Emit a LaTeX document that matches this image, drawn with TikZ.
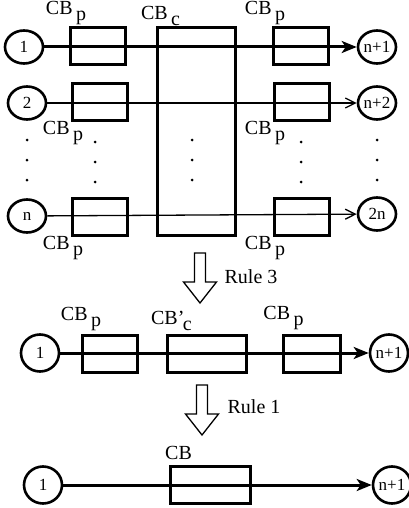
\documentclass[tikz,border=0pt]{standalone}
\usepackage{fontspec}
\setmainfont{Liberation Serif}
\usetikzlibrary{shapes.geometric, arrows.meta, positioning}

% lowered index, same size as the name
\newcommand{\lowsub}[1]{\raisebox{-0.28em}{\,#1}}

\begin{document}
\begin{tikzpicture}[x=1pt, y=-1pt,
    port/.style={ellipse, draw, line width=2.6pt, minimum width=38pt, minimum height=33pt, inner sep=0pt, font=\fontsize{17}{17}\selectfont},
    rport/.style={port, minimum height=37pt},
    cbox/.style={rectangle, draw, line width=3pt, minimum width=55pt, minimum height=37pt},
    lab/.style={inner sep=1pt, font=\fontsize{20}{20}\selectfont},
    wire/.style={line width=1.3pt, -{Straight Barb[length=10pt, width=10pt]}},
    mainwire/.style={line width=3pt, -{Stealth[length=15pt, width=12pt, inset=4pt]}},
    rulearrow/.pic={\draw[line width=1.3pt] (-5.5,0) -- (-5.5,29) -- (-16.5,29) -- (0,50) -- (16.5,29) -- (5.5,29) -- (5.5,0) -- cycle;}
]
\useasboundingbox (0,0) rectangle (409,508);

% --- n parallel paths through CB_c ---
\node[port] (s1) at (24,47) {1};
\node[port] (s2) at (27,103) {2};
\node[port] (sn) at (27,216) {n};
\node[port] (t1) at (377,47) {n+1};
\node[port] (t2) at (377,103) {n+2};
\node[port] (tn) at (377,214) {2n};

\node[cbox] (pl1) at (98,46) {};
\node[cbox] (pl2) at (100,102) {};
\node[cbox] (pln) at (100,217) {};
\node[cbox] (pr1) at (301,46) {};
\node[cbox] (pr2) at (302,102) {};
\node[cbox] (prn) at (302,217) {};
\node[cbox, minimum width=78pt, minimum height=207pt] (cbc) at (196,131.5) {};

\node[lab, above=0pt of pl1.north west, xshift=-3pt] {CB\lowsub{p}};
\node[lab, above=0pt of cbc.north west, xshift=5pt] {CB\lowsub{c}};
\node[lab, above=0pt of pr1.north west, xshift=-7pt] {CB\lowsub{p}};
\node[lab, below=-2pt of pl2.south west, xshift=-8pt] {CB\lowsub{p}};
\node[lab, below=-2pt of pr2.south west, xshift=-8pt] {CB\lowsub{p}};
\node[lab, below=-2pt of pln.south west, xshift=-8pt] {CB\lowsub{p}};
\node[lab, below=-2pt of prn.south west, xshift=-8pt] {CB\lowsub{p}};

\draw[mainwire] (s1) -- (t1);
\draw[wire] (s2) -- (t2);
\draw[wire] (sn) -- (tn);

\foreach \x/\y in {27/140, 95/142, 192/140, 301/142, 377/140}
    \foreach \k in {0,1,2}
        \fill (\x,\y+20*\k) circle (1.5pt);

% --- after Rule 3 ---
\pic at (200,253) {rulearrow};
\node[lab] (rule3) at (251,277) {Rule 3};

\node[rport] (m1) at (40,353) {1};
\node[rport] (mt) at (389,353) {n+1};
\node[cbox] (mb1) at (110,353.5) {};
\node[cbox, minimum width=79pt] (mbc) at (206.5,353.5) {};
\node[cbox, minimum width=57pt] (mb2) at (311.5,353.5) {};
\node[lab, above=2pt of mb1.north west] {CB\lowsub{p}};
\node[lab, above=2pt of mbc.north west, xshift=6pt] {CB’\kern-1.5pt\raisebox{-0.28em}{c}};
\node[lab, above=3pt of mb2.north west, xshift=2pt] {CB\lowsub{p}};
\draw[mainwire] (m1) -- (mt);

% --- after Rule 1 ---
\pic at (202,385) {rulearrow};
\node[lab] (rule1) at (254,407) {Rule 1};

\node[rport] (b1) at (43,485) {1};
\node[rport] (bt) at (392,485) {n+1};
\node[cbox, minimum width=80pt] (cb) at (210,485) {};
\node[lab, above=4pt of cb.north west, xshift=10pt] {CB};
\draw[mainwire] (b1) -- (bt);
\end{tikzpicture}
\end{document}
